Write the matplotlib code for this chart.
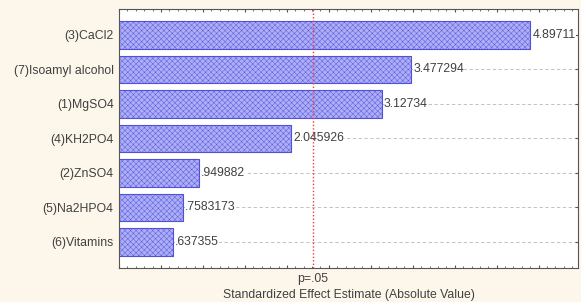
import matplotlib
matplotlib.use("Agg")
import matplotlib.pyplot as plt
import numpy as np
from matplotlib.ticker import MultipleLocator

plt.rcParams.update({"font.family": ["Liberation Sans", "DejaVu Sans"], "font.size": 8.8,
                     "hatch.color": "#8e8fee", "hatch.linewidth": 0.3})

factors = ["(3)CaCl2", "(7)Isoamyl alcohol", "(1)MgSO4", "(4)KH2PO4",
           "(2)ZnSO4", "(5)Na2HPO4", "(6)Vitamins"]
effects = [4.89711, 3.477294, 3.12734, 2.045926, 0.949882, 0.7583173, 0.637355]
labels = ["4.89711", "3.477294", "3.12734", "2.045926", ".949882", ".7583173", ".637355"]
p_crit = 2.306

fig = plt.figure(figsize=(5.81, 3.02), dpi=100, facecolor="#fcf7ea")
ax = fig.add_axes([0.205, 0.113, 0.790, 0.857])
ax.set_facecolor("white")

y = np.arange(len(factors))
for yi in y:
    ax.axhline(yi, color="#b8b8b8", lw=0.6, ls=(0, (4, 3)), zorder=1)
ax.barh(y, effects, height=0.8, color="#adaef6", edgecolor="#5050d8", lw=0.8,
        hatch="xxxxxx", zorder=2)
for yi, v, s in zip(y, effects, labels):
    ax.text(v + 0.03, yi, s, va="center", ha="left", color="#404040",
            bbox=dict(facecolor="white", edgecolor="none", pad=0.2), zorder=3)
ax.axvline(p_crit, color="#f03a3a", lw=1.0, ls=(0, (1, 1.5)), zorder=4)

ax.set_xlim(0, 5.47)
ax.set_ylim(len(factors) - 0.25, -0.75)
ax.set_yticks(y)
ax.set_yticklabels(factors, color="#404040")
ax.xaxis.set_major_locator(MultipleLocator(0.5))
ax.xaxis.set_minor_locator(MultipleLocator(0.1))
ax.tick_params(axis="x", which="both", direction="in", top=True, bottom=True,
               labelbottom=False, length=2.5, color="#555555")
ax.tick_params(axis="x", which="minor", length=1.2)
ax.tick_params(axis="y", direction="in", left=True, right=True, length=2.5, color="#555555", pad=4)
for sp in ax.spines.values():
    sp.set_color("#555555")
    sp.set_linewidth(0.8)

ax.text(p_crit, -0.02, "p=.05", transform=ax.get_xaxis_transform(), ha="center", va="top",
        color="#404040")
fig.text(0.6, 0.003, "Standardized Effect Estimate (Absolute Value)", ha="center", va="bottom",
         color="#404040")

fig.savefig("out.png", dpi=100, facecolor=fig.get_facecolor())
